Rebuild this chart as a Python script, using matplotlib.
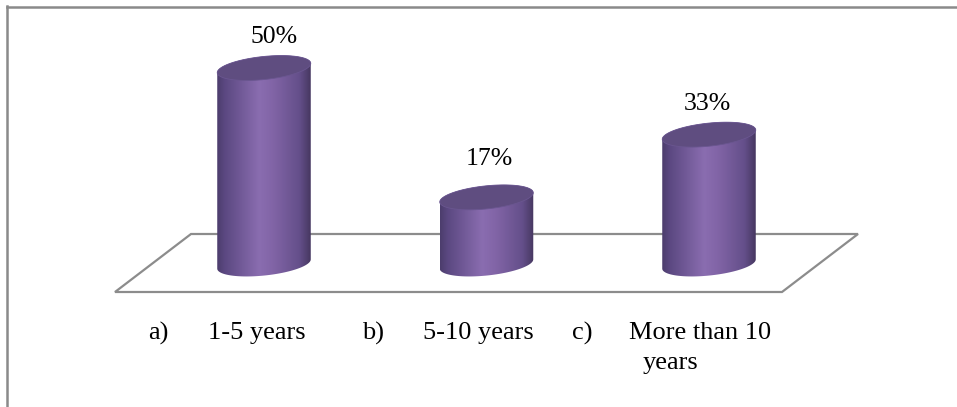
import numpy as np
import matplotlib
matplotlib.use("Agg")
import matplotlib.pyplot as plt
from matplotlib.path import Path
from matplotlib.patches import PathPatch, Polygon
from matplotlib.colors import LinearSegmentedColormap
from matplotlib.lines import Line2D

# ---- data ----
categories = ["1-5 years", "5-10 years", "More than 10 years"]
markers = ["a)", "b)", "c)"]
values = [50, 17, 33]
value_labels = ["50%", "17%", "33%"]

# ---- figure / layout (pixel units) ----
W, H = 957, 407
DPI = 100
fig = plt.figure(figsize=(W / DPI, H / DPI), dpi=DPI)
fig.patch.set_facecolor("white")
ax = fig.add_axes([0, 0, 1, 1])
ax.set_axis_off()

slot_px = 222.5           # pixels between category centres
first_px = 264.0          # pixel x of first category centre
base_from_top = 264.0     # pixel row of the bar baseline
px_per_pct = 3.92         # vertical pixels per percentage point

x_lo = -first_px / slot_px
x_hi = (W - first_px) / slot_px
y_lo = -(H - base_from_top) / px_per_pct
y_hi = base_from_top / px_per_pct
ax.set_xlim(x_lo, x_hi)
ax.set_ylim(y_lo, y_hi)

sx = 1.0 / slot_px
sy = 1.0 / px_per_pct


def px_to_data(px, py):
    """Figure pixel (from top-left) -> data coordinates."""
    return x_lo + px * sx, y_hi - py * sy


# ---- floor plane ----
floor_px = [(115, 292), (782, 292), (858, 234), (191, 234)]
floor = Polygon([px_to_data(*p) for p in floor_px], closed=True,
                facecolor="white", edgecolor="#8c8c8c", linewidth=1.6, zorder=1)
ax.add_patch(floor)

# ---- cylinders ----
a_px, b_px = 47.0, 11.5
theta = np.deg2rad(6.0)
t0 = np.arctan2(-b_px * np.sin(theta), a_px * np.cos(theta))

side_cmap = LinearSegmentedColormap.from_list(
    "cyl_side",
    [(0.0, "#4c3d6c"), (0.08, "#5b4881"), (0.45, "#8a6db0"),
     (0.6, "#8164a6"), (0.88, "#644f8a"), (1.0, "#463760")])
top_color = "#5f4d80"
label_dx = [10, 3, -2]    # horizontal nudge of the value labels, pixels
label_dy = [31, 38, 31]   # gap from cylinder top to value label, pixels


def ellipse_pts(cx, cy, t):
    dx = a_px * np.cos(t) * np.cos(theta) - b_px * np.sin(t) * np.sin(theta)
    dy = a_px * np.cos(t) * np.sin(theta) + b_px * np.sin(t) * np.cos(theta)
    return np.column_stack([cx + dx * sx, cy + dy * sy])


grad = np.linspace(0, 1, 256).reshape(1, -1)
for i, v in enumerate(values):
    cx = float(i)
    bottom_arc = ellipse_pts(cx, 0.0, np.linspace(t0 + np.pi, t0 + 2 * np.pi, 80))
    top_back = ellipse_pts(cx, v, np.linspace(t0, t0 + np.pi, 80))
    side = np.vstack([bottom_arc, top_back, bottom_arc[:1]])
    side_patch = PathPatch(Path(side, closed=True), facecolor="none",
                           edgecolor="none", zorder=2)
    ax.add_patch(side_patch)
    half_w = a_px * sx
    img = ax.imshow(grad, cmap=side_cmap, aspect="auto",
                    extent=(cx - half_w, cx + half_w, -b_px * 2 * sy, v + b_px * 2 * sy),
                    zorder=2, interpolation="bilinear")
    img.set_clip_path(side_patch)

    top = ellipse_pts(cx, v, np.linspace(0, 2 * np.pi, 120))
    ax.add_patch(Polygon(top, closed=True, facecolor=top_color,
                         edgecolor="#6a5690", linewidth=0.6, zorder=3))

    ax.text(cx + label_dx[i] * sx, v + label_dy[i] * sy, value_labels[i],
            ha="center", va="center", fontsize=18.5, family="Liberation Serif",
            color="black", zorder=4)

ax.set_xlim(x_lo, x_hi)
ax.set_ylim(y_lo, y_hi)

# ---- category labels ----
label_font = dict(fontsize=19, family="Liberation Serif", color="black", va="center")
marker_x = [148, 362, 572]
name_x = [208, 423, 629]
label_row = 333
for mk, name, mx, nx in zip(markers, categories, marker_x, name_x):
    fig.text(mx / W, 1 - label_row / H, mk, ha="left", **label_font)
    if name == "More than 10 years":
        fig.text(nx / W, 1 - label_row / H, "More than 10", ha="left", **label_font)
        fig.text((nx + 14) / W, 1 - 363 / H, "years", ha="left", **label_font)
    else:
        fig.text(nx / W, 1 - label_row / H, name, ha="left", **label_font)

# ---- frame lines (top and left) ----
fig.add_artist(Line2D([7 / W, 1.0], [1 - 6.5 / H, 1 - 6.5 / H],
                      transform=fig.transFigure, color="#8a8a8a", linewidth=1.8))
fig.add_artist(Line2D([7.5 / W, 7.5 / W], [0.0, 1 - 6 / H],
                      transform=fig.transFigure, color="#8a8a8a", linewidth=1.8))

fig.savefig("out.png", dpi=DPI, facecolor="white")
